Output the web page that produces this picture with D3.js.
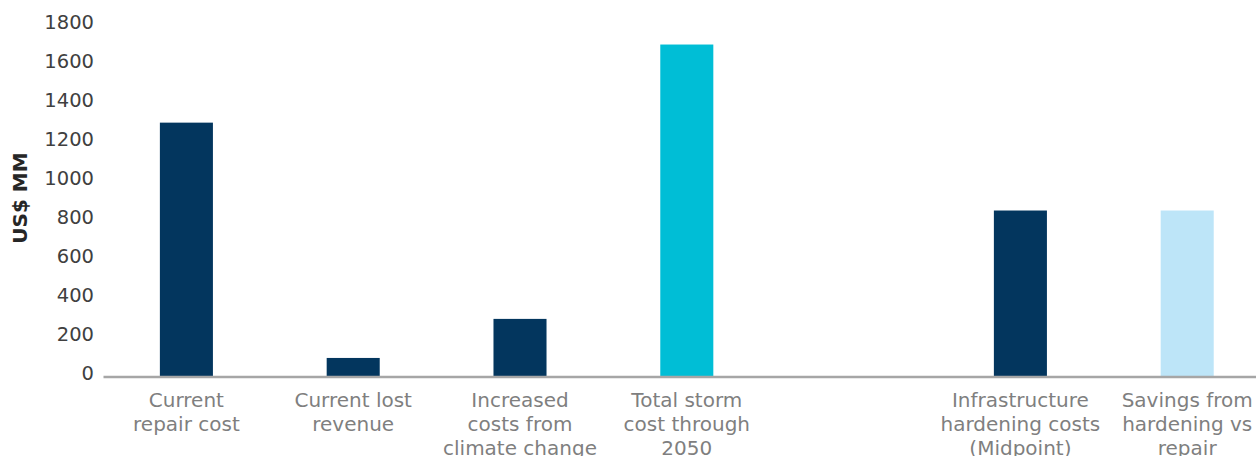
<!DOCTYPE html>
<html>
<head>
<meta charset="utf-8">
<script src="https://cdn.jsdelivr.net/npm/d3@7"></script>
<style>
  html, body { margin: 0; padding: 0; background: #fff; overflow: hidden; }
  svg { display: block; }
</style>
</head>
<body>
<svg id="chart" width="1256" height="456"></svg>
<script>
const categories = [
  "Current\nrepair cost",
  "Current lost\nrevenue",
  "Increased\ncosts from\nclimate change",
  "Total storm\ncost through\n2050",
  "",
  "Infrastructure\nhardening costs\n(Midpoint)",
  "Savings from\nhardening vs\nrepair"
];
const values = [1300, 95, 295, 1700, null, 850, 850];
const barColors = ["#03365E", "#03365E", "#03365E", "#00BED6", null, "#03365E", "#BDE5F8"];
const yTicks = [0, 200, 400, 600, 800, 1000, 1200, 1400, 1600, 1800];
const yTitle = "US$ MM";

const svg = d3.select("#chart");
const font = "'DejaVu Sans', sans-serif";

const x = d3.scaleBand()
  .domain(categories.map((c, i) => i))
  .range([103, 1270.6])
  .paddingInner(0.682)
  .paddingOuter(0.341);

const y = d3.scaleLinear().domain([0, 1800]).range([376.5, 25]);

// bars
svg.append("g").selectAll("rect")
  .data(values.map((v, i) => ({ v, i })).filter(d => d.v !== null))
  .join("rect")
  .attr("x", d => x(d.i))
  .attr("width", x.bandwidth())
  .attr("y", d => y(d.v))
  .attr("height", d => y(0) - y(d.v))
  .attr("fill", d => barColors[d.i]);

// y axis tick labels (no line)
const yAxis = d3.axisLeft(y).tickValues(yTicks).tickFormat(d3.format("d")).tickSize(0).tickPadding(0);
const gy = svg.append("g").attr("transform", "translate(94,0)").call(yAxis);
gy.select(".domain").remove();
gy.selectAll("text")
  .attr("font-family", font)
  .attr("font-size", 19.5)
  .attr("fill", "#404040")
  .attr("dy", "0")
  .attr("dominant-baseline", "central")
  .attr("transform", "translate(0,-3.5)");

// x axis line
const xAxis = d3.axisBottom(x).tickSize(0).tickFormat(() => "");
const gx = svg.append("g").attr("transform", `translate(0,${y(0)})`).call(xAxis);
gx.select(".domain").attr("stroke", "#A6A6A6").attr("stroke-width", 2.5);

// category labels
const lab = svg.append("g").selectAll("text")
  .data(categories.map((c, i) => ({ c, i })))
  .join("text")
  .attr("x", d => x(d.i) + x.bandwidth() / 2)
  .attr("y", 407)
  .attr("text-anchor", "middle")
  .attr("font-family", font)
  .attr("font-size", 20)
  .attr("fill", "#7F7F7F");
lab.each(function(d) {
  const t = d3.select(this);
  d.c.split("\n").forEach((line, k) => {
    t.append("tspan")
      .attr("x", x(d.i) + x.bandwidth() / 2)
      .attr("dy", k === 0 ? 0 : 24)
      .text(line);
  });
});

// y title
svg.append("text")
  .attr("transform", `translate(27,198) rotate(-90)`)
  .attr("text-anchor", "middle")
  .attr("font-family", font)
  .attr("font-weight", "bold")
  .attr("font-size", 20)
  .attr("fill", "#262626")
  .text(yTitle);
</script>
</body>
</html>
